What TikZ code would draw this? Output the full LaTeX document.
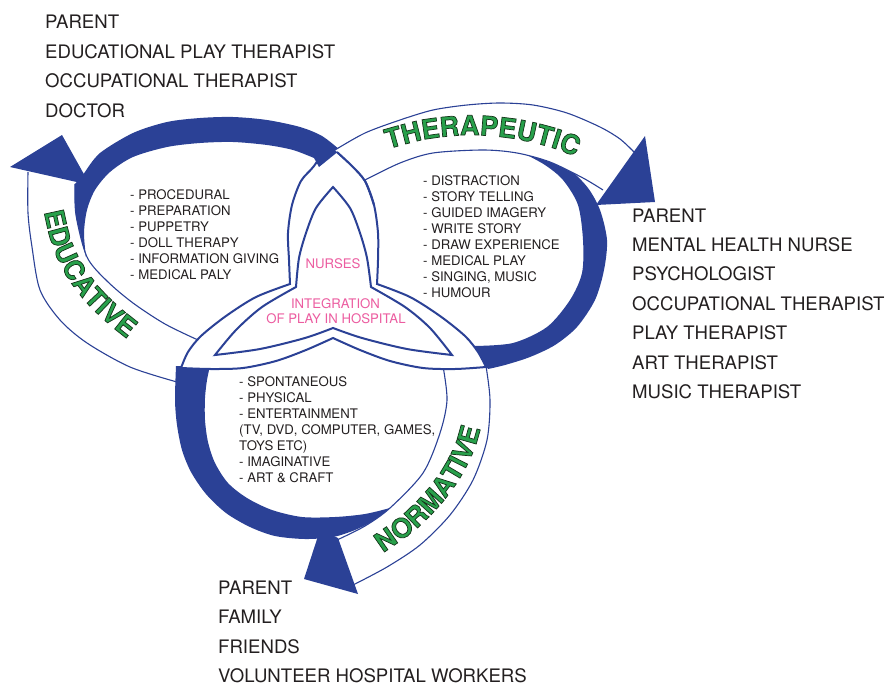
\documentclass[tikz,border=0pt]{standalone}
\usepackage{fontspec}
\setmainfont{TeX Gyre Heros}
\usepackage{tikz}
\usetikzlibrary{decorations.text}

\definecolor{loopblue}{RGB}{43,65,150}
\definecolor{tagreen}{RGB}{40,160,75}
\definecolor{nursepink}{RGB}{236,92,160}
\definecolor{listgray}{RGB}{35,31,32}
% bold letters, filled and stroked with a dark edge
\newcommand{\looptagfont}{\fontsize{27}{27}\selectfont\bfseries\special{pdf:literal direct 2 Tr 0.7 w 0.08 0.2 0.1 RG}}

\tikzset{
  band/.style={fill=white},
  bandline/.style={draw=loopblue, line width=1.1pt},
  crescent/.style={fill=loopblue},
  lobe/.style={draw=loopblue, line width=2pt, line join=miter},
  who/.style={anchor=base west, inner sep=0pt, text=listgray, font=\fontsize{18.6}{22}\selectfont},
  play/.style={anchor=base west, inner sep=0pt, text=listgray, font=\fontsize{13.2}{16}\selectfont},
  nurse/.style={anchor=base, inner sep=0pt, text=nursepink, font=\fontsize{13.2}{16}\selectfont},
  looptag/.style={decorate, decoration={text along path, text align=left, text color=tagreen}}
}

\begin{document}
\begin{tikzpicture}[x=1pt, y=-1pt]
    \useasboundingbox (0,0) rectangle (890,685);

    % educative band (front side)
    \fill[band] plot[smooth] coordinates {(28,172) (28,213) (32,247) (40,290) (60,320) (87,343) (130,367) (177,382)}
        -- (183,366) -- (198,338)
        -- plot[smooth] coordinates {(198,338) (165,324) (133,303) (107,281) (87,257) (76,215) (75,184)} -- cycle;
    \draw[bandline] plot[smooth] coordinates {(28,172) (28,213) (32,247) (40,290) (60,320) (87,343) (130,367) (177,382)};
    \draw[bandline] plot[smooth] coordinates {(75,184) (76,215) (87,257) (107,281) (133,303) (165,324) (198,340)};

    % normative back side
    \fill[crescent] plot[smooth] coordinates {(176,366) (175,400) (177,425) (182,450) (191,472) (206,494) (226,513) (250,527) (275,536) (305,539) (333,537) (355,530) (375,520) (390,508)}
        -- plot[smooth] coordinates {(390,508) (365,514) (335,517) (302,517) (272,510) (247,498) (228,483) (215,463) (208,442) (205,420) (205,398) (207,380) (210,366)} -- cycle;

    % normative band
    \fill[band] plot[smooth] coordinates {(486,366) (490,400) (487,440) (473,480) (450,515) (420,545) (387,567) (353,585)}
        -- (337,540)
        -- plot[smooth] coordinates {(337,540) (365,526) (390,508) (423,473) (440,433) (447,400) (443,366)} -- cycle;
    \draw[bandline] plot[smooth] coordinates {(486,366) (490,400) (487,440) (473,480) (450,515) (420,545) (387,567) (353,585)};
    \draw[bandline] plot[smooth] coordinates {(443,366) (447,400) (440,433) (423,473) (390,508) (365,526) (337,540)};

    % therapeutic back side
    \fill[crescent] plot[smooth] coordinates {(523,153) (548,159) (570,170) (588,188) (600,210) (607,240) (604,270) (595,300) (577,327) (555,345) (530,357) (505,365) (488,369)}
        -- plot[smooth] coordinates {(474,346) (513,343) (547,327) (570,300) (582,273) (583,240) (578,205) (563,180) (545,165) (523,153)} -- cycle;

    % the three lobes in the middle
    \filldraw[lobe, fill=white]
        plot[smooth] coordinates {(328,144) (337,152) (352,166) (365,181) (374,205) (378,233) (378,260) (377,284)}
        -- plot[smooth] coordinates {(377,284) (410,297) (440,316) (465,336) (478,352) (486,367)}
        -- plot[smooth] coordinates {(486,367) (455,369) (423,368) (390,361) (360,350) (333,338)}
        -- plot[smooth] coordinates {(333,338) (306,350) (276,361) (243,368) (211,369) (181,368)}
        -- plot[smooth] coordinates {(181,368) (188,352) (201,336) (226,316) (256,297) (290,284)}
        -- plot[smooth] coordinates {(290,284) (289,260) (288,233) (292,205) (301,181) (314,166) (328,144)} -- cycle;
    \draw[lobe]
        plot[smooth] coordinates {(333,187) (350,208) (360,233) (367,258) (371,287)}
        -- plot[smooth] coordinates {(371,287) (405,307) (430,328) (452,355)}
        -- plot[smooth] coordinates {(452,355) (407,349) (362,338) (333,328)}
        -- plot[smooth] coordinates {(333,328) (305,338) (260,349) (215,355)}
        -- plot[smooth] coordinates {(215,355) (236,330) (262,307) (296,287)}
        -- plot[smooth] coordinates {(296,287) (299,258) (306,233) (316,208) (333,187)} -- cycle;

    % educative back side
    \fill[crescent] plot[smooth] coordinates {(86,257) (84,233) (87,210) (95,190) (110,172) (133,157) (167,147) (200,143) (233,142) (267,145) (293,150) (314,158)}
        -- (319,167) -- (340,150)
        -- plot[smooth] coordinates {(340,150) (322,136) (300,127) (267,120) (233,117) (200,118) (167,122) (133,133) (100,153) (85,172)}
        -- (75,184)
        -- plot[smooth] coordinates {(75,184) (76,215) (86,257)} -- cycle;

    % therapeutic band
    \fill[band] plot[smooth] coordinates {(335,150) (365,133) (400,120) (433,110) (467,105) (500,103) (533,105) (567,113) (600,127) (620,139) (634,152)}
        -- (603,190)
        -- plot[smooth] coordinates {(603,190) (583,178) (550,162) (517,153) (483,150) (433,153) (400,163) (365,180)} -- cycle;
    \draw[bandline] plot[smooth] coordinates {(335,150) (365,133) (400,120) (433,110) (467,105) (500,103) (533,105) (567,113) (600,127) (620,139) (634,152)};
    \draw[bandline] plot[smooth] coordinates {(365,180) (400,163) (433,153) (483,150) (517,153) (550,162) (583,178) (603,190)};
    \draw[lobe] plot[smooth] coordinates {(337,152) (352,166) (365,181) (374,205)};

    % arrow heads
    \fill[crescent] (10,167) -- (62,135) -- (90,185) -- cycle;
    \fill[crescent] (645,136) -- (655,202) -- (596,205) -- cycle;
    \fill[crescent] (320,530) -- (338,538) -- (358,594) -- (304,579) -- cycle;

    % who plays
    \foreach \who [count=\i from 0] in {PARENT, EDUCATIONAL PLAY THERAPIST, OCCUPATIONAL THERAPIST, DOCTOR}
        \node[who] (eduwho\i) at (45,28.5+29.5*\i) {\who};
    \foreach \who [count=\i from 0] in {PARENT, MENTAL HEALTH NURSE, PSYCHOLOGIST, OCCUPATIONAL THERAPIST, PLAY THERAPIST, ART THERAPIST, MUSIC THERAPIST}
        \node[who] (therwho\i) at (632,222+29.4*\i) {\who};
    \foreach \who [count=\i from 0] in {PARENT, FAMILY, FRIENDS, VOLUNTEER HOSPITAL WORKERS}
        \node[who] (normwho\i) at (218,594.5+29.3*\i) {\who};

    % kinds of play
    \foreach \kind [count=\i from 0] in {- PROCEDURAL, - PREPARATION, - PUPPETRY, - DOLL THERAPY, - INFORMATION GIVING, - MEDICAL PALY}
        \node[play] (edukind\i) at (130,199+16*\i) {\kind};
    \foreach \kind [count=\i from 0] in {- DISTRACTION, - STORY TELLING, - GUIDED IMAGERY, - WRITE STORY, - DRAW EXPERIENCE, - MEDICAL PLAY, {- SINGING, MUSIC}, - HUMOUR}
        \node[play] (therkind\i) at (423,185+16.1*\i) {\kind};
    \foreach \kind [count=\i from 0] in {- SPONTANEOUS, - PHYSICAL, - ENTERTAINMENT, {(TV, DVD, COMPUTER, GAMES,}, {TOYS ETC)}, - IMAGINATIVE, {- ART \& CRAFT}}
        \node[play] (normkind\i) at (239,386+16*\i) {\kind};

    \node[nurse] (nurses) at (333,268) {NURSES};
    \node[nurse] (integration) at (335.5,308) {INTEGRATION};
    \node[nurse] (inhospital) at (336,323) {OF PLAY IN HOSPITAL};

    % loop names
    \path[looptag, decoration={text={|\looptagfont|EDUCATIVE}}]
        plot[smooth] coordinates {(44,212) (52,245) (66,275) (86,302) (110,325) (140,348) (175,368)};
    \path[looptag, decoration={text={|\looptagfont|THERAPEUTIC}}]
        plot[smooth] coordinates {(388,149) (427,139) (471,135) (516,139) (559,150) (600,169) (637,195)};
    \path[looptag, decoration={text={|\looptagfont|NORMATIVE}}]
        plot[smooth] coordinates {(383,553) (415,530) (440,505) (460,478) (474,450) (482,422) (486,395)};
\end{tikzpicture}
\end{document}
